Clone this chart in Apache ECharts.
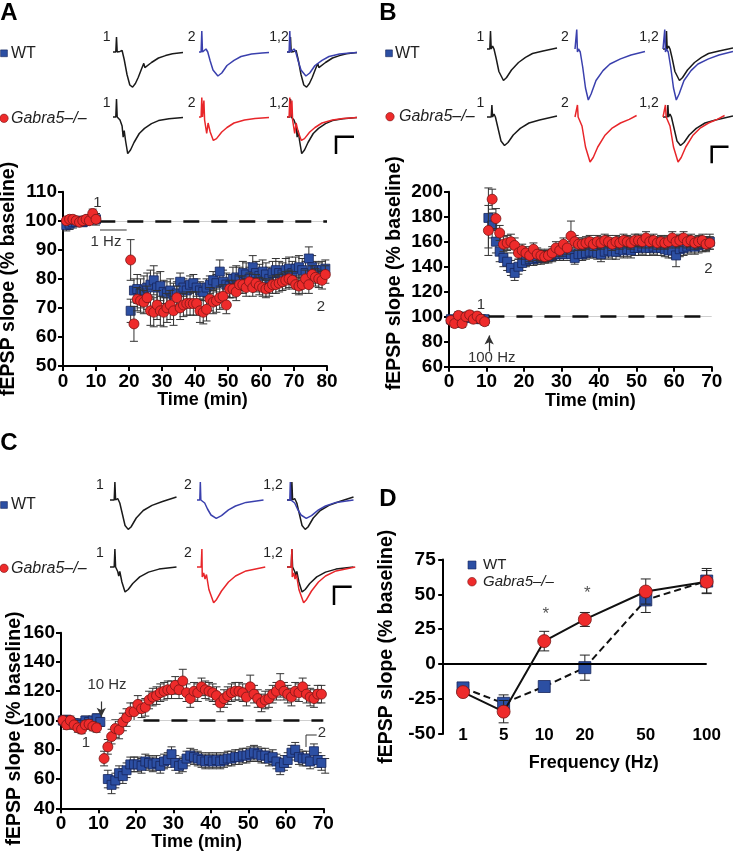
<!DOCTYPE html>
<html>
<head>
<meta charset="utf-8">
<script src="https://cdn.jsdelivr.net/npm/echarts/dist/echarts.min.js"></script>
<style>html,body{margin:0;padding:0;background:#fff}#chart{width:733px;height:853px}</style>
</head>
<body>
<div id="chart"></div>
<script>
const FONT = "'Liberation Sans', Arial, Helvetica, sans-serif";
function seq(start, n){ const a=[]; for(let i=0;i<n;i++) a.push(start+i); return a; }

// ---------------- Panel A (1 Hz) ----------------
const timeA_base = [1,2,3,4,5,6,7,8,9,10];
const timeA_post = seq(20.5, 60);
const wtA_base = [98.5,99,99.5,99.5,100,99.5,100,100.5,100.5,100.5];
const koA_base = [100,100.5,100.5,100,99.5,100,100.5,100,102.5,100.5];
const wtA_post = [69,76,76.5,75,76,77,78,79.5,77,77.5,
  75.5,75,76,74.5,75,79,77,76,78,78.5,
  77,76,75.5,77,78,79.5,78.5,82.5,79,78,
  77.5,80,80.5,80,82,81.5,80,84,82,81,
  82.5,81.5,80,82,83,82,81.5,83,83.5,82,
  83.5,84,83,82,87,84,83,82.5,83,83.5];
const koA_post = [86.5,64.5,73,72.5,72,73.5,69,68.5,71,69,
  68.5,70,71,69,73.5,70,71,71.5,71.5,71.5,
  71.5,69,68.5,69.5,73,72,72.5,73.5,74,71,
  76.5,76.5,75.5,78,78,77,79,77,78.5,77.5,
  77,76.5,77,78,78,78.5,79,79.5,80,79.5,
  78,77.5,78,80,78,81.5,80.5,80,79.5,81.5];
const wtA_errBase = [2,2,2,1.5,1.5,1.5,1.5,1.5,1.5,2];
const koA_errBase = [1,1,1,1,1,1,1,1,1.5,1];
const wtA_errPost = [4,4,5,5,5,5,5,5,5,5, 4,4,4,4,4,3,3,3,3,3, 3,3,3,3,3,3,3,4,4,4, 4,4,4,4,4,4,4,4,4,4, 4,4,4,4,4,4,4,4,4,4, 4,4,4,4,4,4,3,3,3,3];
const koA_errPost = [7,6,4,4,4,4,5,5,5,5, 5,5,5,5,4,4,4,4,4,4, 4,4,4,4,4,4,4,4,4,3, 3,3,3,3,3,3,3,3,3,3, 3,3,3,3,3,3,3,3,3,3, 3,3,3,3,3,3,3,3,3,3];

// ---------------- Panel B (100 Hz) ----------------
const timeB_base = seq(0.5, 10);
const timeB_post = seq(10.5, 60);
const wtB_base = [98,97,99,98,100,99,100,99,98,98];
const koB_base = [97,94.5,101,94.5,100,101.5,98,100.5,98,96];
const wtB_post = [179,173,160,152,147,144,139,135,140,143,
  145,146,146,147,147,148,148,149,150,150,
  150,152,150,147,150,150,151,152,152,151,
  150,152,153,152,152,154,153,154,153,155,
  155,156,155,155,156,155,155,154,153,153,
  149,154,155,156,157,156,157,158,158,160];
const koB_post = [169,194,178.5,167,158,159,160,157,151,153,
  151,149,154,150,149,148,149,151,155,153,
  158,155,164.5,160,158,158,159,160,158,160,
  159,161,160,158,160,159,161,160,159,161,
  161,160,163,160,161,159,160,159,160,163,
  160,161,163,160,161,159,160,161,158,159];
const wtB_errBase = [3,3,3,3,3,3,3,3,3,3];
const koB_errBase = [3,3,3,3,3,3,3,3,3,3];
const wtB_errPost = [24,10,9,8,7,7,6,6,6,6, 5,5,5,5,5,5,5,5,5,5, 5,5,5,5,5,5,5,5,5,5, 6,6,6,6,6,6,6,6,6,6, 6,6,6,6,6,6,6,6,6,6, 9,6,6,6,6,6,6,6,6,6];
const koB_errPost = [20,8,8,6,6,6,6,6,5,5, 5,5,5,5,5,5,5,5,5,5, 5,5,12,5,5,5,5,5,5,5, 5,5,5,5,5,5,5,5,5,5, 5,5,5,5,5,5,5,5,5,5, 5,5,5,5,5,5,5,5,5,5];

// ---------------- Panel C (10 Hz) ----------------
const timeC_KO_base = seq(0.5, 10);
const timeC_KO_post = seq(11.5, 59);
const timeC_WT_base = seq(0.5, 11);
const timeC_WT_post = seq(12.5, 59);
const koC_base = [100,97,100,97,95,94,97,97.5,96,95];
const wtC_base = [100,100.5,99,98,98,97,100,99,100,101.5,99];
const koC_post = [74,82,89,94.5,93.5,99,102,106,106,111,
  108,109,114,116,117,119,120,121,121,124,
  121,127,119,115,120,119,123,121,120,119,
  117,112,115,117,119,120,120,119,116,123,
  118,115,112,114,115,118,120,124,120,118,
  116,120,119,123,118,116,115,118,118];
const wtC_post = [60,56,59,64,62,66,70,70,70,69,
  72,71,70,71,69,72,73,77,71,69,
  70,74,76,75,74,73,72,73,72,73,
  72,73,74,74,75,75,76,76,77,78,
  77,76,76,74,75,72,68,71,73,78,
  80,75,74,74,72,79,73,71,69];
const koC_errBase = [3,3,3,3,3,3,3,3,3,3];
const wtC_errBase = [3,3,3,3,3,3,3,3,3,3,3];
const koC_errPost = [5,5,5,6,6,6,6,6,6,6, 6,6,6,6,6,6,6,6,6,6, 6,8,6,6,6,6,6,6,6,6, 6,6,6,6,6,6,6,6,6,8, 6,6,6,6,6,6,6,8,6,6, 6,6,6,6,6,6,6,6,6];
const wtC_errPost = [6,6,5,5,5,5,5,5,5,5, 5,5,5,5,5,5,5,5,5,5, 5,5,5,5,5,5,5,5,5,5, 5,5,5,5,5,5,5,5,5,5, 5,5,5,5,5,5,5,5,5,5, 5,5,5,5,5,5,5,5,5];

// ---------------- Panel D (frequency) ----------------
const freqLabels = ['1','5','10','20','50','100'];
const wtD = [-17,-28,-16,-2.5,46,59.5];
const wtD_err = [3,6,2.5,9,9,9];
const koD = [-20,-34,16.5,32,52,59];
const koD_err = [2,8,7,5,9,8];

// ---------------- example traces ([time, amplitude]) ----------------
const trA_WT1 = [[0,0],[0.8,0],[1,0.5],[1.2,0],[2,0.02],[2.6,0.05],[3.2,-0.25],[4,-0.75],[4.8,-1.1],[5.6,-1.17],[6.4,-1.05],[7.2,-0.85],[8.2,-0.55],[8.6,-0.5],[8.8,-0.38],[9.1,-0.52],[11,-0.35],[13,-0.2],[15,-0.12],[17,-0.06],[20,-0.02]];
const trA_WT2 = [[0,0],[0.6,0],[0.8,0.7],[1,0],[1.5,-0.05],[2,0.1],[2.5,0],[3.2,-0.3],[4,-0.6],[5.4,-0.8],[6.5,-0.7],[8,-0.45],[10,-0.28],[12,-0.15],[15,-0.07],[18,-0.03],[20,-0.02]];
const trA_KO1 = [[0,0],[0.8,0],[1,0.6],[1.2,0],[2,-0.1],[2.6,-0.3],[2.9,-0.67],[3.2,-0.45],[3.6,-0.8],[4.2,-1.22],[5,-1.1],[6,-0.85],[7.5,-0.55],[9,-0.38],[11,-0.22],[13,-0.12],[16,-0.06],[20,-0.02]];
const trA_KO2 = [[0,0],[0.6,0],[0.8,0.65],[1,0],[1.4,0.55],[1.6,-0.1],[2.2,-0.55],[2.6,-0.2],[3.2,-0.5],[4.1,-0.78],[5,-0.72],[6.5,-0.5],[8,-0.35],[10,-0.2],[13,-0.1],[16,-0.05],[20,-0.02]];
const trB_WT1 = [[0,0],[0.8,0],[1,0.6],[1.2,0],[1.6,0.1],[2,0],[2.6,-0.3],[3.4,-0.75],[4.7,-1.05],[5.6,-0.95],[7,-0.7],[9,-0.45],[11,-0.28],[13,-0.15],[16,-0.07],[20,0.03]];
const trB_WT2 = [[0,0],[0.3,0],[0.5,0.65],[0.7,-0.1],[1,0],[1.5,-0.1],[2.2,-0.6],[3,-1.3],[3.8,-1.7],[4.6,-1.5],[6,-1.05],[8,-0.72],[10,-0.5],[13,-0.33],[16,-0.2],[20,-0.08]];
const trB_KO1 = [[0,0],[1.2,0],[1.4,0.4],[1.6,0],[2,0.1],[2.4,0],[3,-0.3],[4,-0.8],[5,-0.95],[6,-0.85],[7.5,-0.6],[9.5,-0.38],[12,-0.2],[15,-0.1],[20,0.03]];
const trB_KO2 = [[0,0],[0.5,0],[0.7,0.4],[0.9,0],[1.4,0.05],[2,-0.3],[3,-1.0],[4.3,-1.5],[5.2,-1.35],[6.5,-1.0],[8.5,-0.62],[10.5,-0.38],[13,-0.2],[15.5,-0.08],[17.6,0.05]];
const trC_WT1 = [[0,0],[1.2,0],[1.4,0.6],[1.6,0],[2.2,0.05],[2.8,-0.1],[3.4,-0.4],[4.3,-0.85],[5.2,-0.98],[6,-0.9],[7.5,-0.6],[9.5,-0.35],[12,-0.18],[15,-0.05],[19,0.1]];
const trC_WT2 = [[0,0],[0.8,0],[0.95,0.6],[1.1,0],[1.6,0.05],[2.2,-0.1],[3,-0.3],[4,-0.5],[5.5,-0.61],[7,-0.52],[9,-0.33],[11,-0.2],[14,-0.08],[19,0]];
const trC_KO1 = [[0,0],[1.2,0],[1.4,0.6],[1.6,0],[2.2,-0.15],[2.5,-0.3],[2.8,-0.15],[3.4,-0.5],[4.3,-0.83],[5.2,-0.75],[6.5,-0.55],[8.5,-0.33],[11,-0.17],[14,-0.07],[19,0]];
const trC_KO2 = [[0,0],[1.2,0],[1.4,0.6],[1.5,-0.33],[1.9,-0.2],[2.3,-0.4],[2.7,-0.25],[3.4,-0.75],[4.75,-1.19],[5.6,-1.08],[7,-0.8],[9,-0.5],[11,-0.3],[14,-0.13],[19.5,0]];

// ---------------- styles ----------------
const RED = '#ee2b2b', RED_EDGE = '#7a1515', BLUE = '#2c4fa3', BLUE_EDGE = '#17255a';
const TR_BLACK = '#1a1a1a', TR_BLUE = '#3a40ad', TR_RED = '#e8262a';

const grids = [], xAxes = [], yAxes = [], series = [];
function addGrid(l, t, w, h){ grids.push({left:l, top:t, width:w, height:h, containLabel:false, outerBoundsMode:'none'}); return grids.length-1; }
function axisBase(){
  return {
    axisLine:{show:true, onZero:false, lineStyle:{color:'#000', width:2}},
    axisTick:{show:true, inside:false, length:5, lineStyle:{color:'#000', width:2}},
    axisLabel:{color:'#000', fontSize:19, fontWeight:'bold', fontFamily:FONT, margin:6},
    splitLine:{show:false}, nameMoveOverlap:false
  };
}
function zip3(t, v, e){ return t.map((x,i)=>[x, v[i], e[i]]); }
function errBars(gi, pts, cap, color, z){
  return {type:'custom', xAxisIndex:gi, yAxisIndex:gi, z:z, silent:true, animation:false, clip:false, data:pts,
    renderItem:function(p, api){
      const x = api.value(0), y = api.value(1), e = api.value(2);
      const a = api.coord([x, y+e]), b = api.coord([x, y-e]);
      const st = {stroke:color, lineWidth:1};
      return {type:'group', children:[
        {type:'line', shape:{x1:a[0], y1:a[1], x2:b[0], y2:b[1]}, style:st},
        {type:'line', shape:{x1:a[0]-cap, y1:a[1], x2:a[0]+cap, y2:a[1]}, style:st},
        {type:'line', shape:{x1:b[0]-cap, y1:b[1], x2:b[0]+cap, y2:b[1]}, style:st}
      ]};
    }};
}
function scat(gi, pts, kind, z, extra){
  const s = {type:'scatter', xAxisIndex:gi, yAxisIndex:gi, z:z, silent:true, animation:false,
    data:pts.map(p=>[p[0], p[1]]),
    symbol: kind==='ko' ? 'circle' : 'rect', symbolSize: kind==='ko' ? 10 : 9,
    itemStyle:{color: kind==='ko' ? RED : BLUE, borderColor: kind==='ko' ? RED_EDGE : BLUE_EDGE, borderWidth:0.8, opacity:1}};
  return Object.assign(s, extra||{});
}
function hLines(items){
  return {silent:true, symbol:['none','none'], label:{show:false}, animation:false, data:items};
}

function timePanel(box, xMax, yMin, yMax, yInt, namePadX, yGap, yPadTop, yPadBot){
  const g = addGrid(box[0], box[1], box[2], box[3]);
  xAxes.push(Object.assign(axisBase(), {type:'value', gridIndex:g, min:0, max:xMax, interval:10,
    name:'Time (min)', nameLocation:'middle', nameGap:25,
    nameTextStyle:{fontSize:18, fontWeight:'bold', color:'#000', fontFamily:FONT, padding:[0,0,0,namePadX]}}));
  yAxes.push(Object.assign(axisBase(), {type:'value', gridIndex:g, min:yMin, max:yMax, interval:yInt,
    name:'fEPSP slope (% baseline)', nameLocation:'middle', nameGap:yGap,
    nameTextStyle:{fontSize:19.5, fontWeight:'bold', color:'#000', fontFamily:FONT, padding:[0,yPadBot,0,yPadTop]}}));
  return g;
}

// Panel A
const gA = timePanel([63, 191.7, 264, 174.3], 80, 50, 110, 10, 15, 44, 0, 0);
const dashStyle = {color:'#111', width:2.5, type:[16,12]};
series.push(errBars(gA, zip3(timeA_base.concat(timeA_post), wtA_base.concat(wtA_post), wtA_errBase.concat(wtA_errPost)), 4, '#333', 2));
series.push(scat(gA, zip3(timeA_base.concat(timeA_post), wtA_base.concat(wtA_post), wtA_errBase.concat(wtA_errPost)), 'wt', 3, {
  markLine: hLines([
    [{coord:[10.5,100], lineStyle:{color:'#cfcfcf', width:1, type:'solid'}}, {coord:[80,100]}],
    [{coord:[11.2,96.8], lineStyle:{color:'#777', width:1.5, type:'solid'}}, {coord:[19.3,96.8]}]
  ])}));
series.push(errBars(gA, zip3(timeA_base.concat(timeA_post), koA_base.concat(koA_post), koA_errBase.concat(koA_errPost)), 4, '#333', 4));
series.push(scat(gA, zip3(timeA_base.concat(timeA_post), koA_base.concat(koA_post), koA_errBase.concat(koA_errPost)), 'ko', 5, {
  markLine: hLines([[{coord:[11,100], lineStyle:dashStyle}, {coord:[80,100]}]])}));

// Panel B
const gB = timePanel([449, 191.7, 262.7, 175], 70, 60, 200, 20, 20, 44, 12, 0);
series.push(errBars(gB, zip3(timeB_base.concat(timeB_post), wtB_base.concat(wtB_post), wtB_errBase.concat(wtB_errPost)), 4, '#333', 2));
series.push(scat(gB, zip3(timeB_base.concat(timeB_post), wtB_base.concat(wtB_post), wtB_errBase.concat(wtB_errPost)), 'wt', 3, {
  markLine: hLines([[{coord:[10.5,100], lineStyle:{color:'#cfcfcf', width:1, type:'solid'}}, {coord:[70,100]}]])}));
series.push(errBars(gB, zip3(timeB_base.concat(timeB_post), koB_base.concat(koB_post), koB_errBase.concat(koB_errPost)), 4, '#333', 4));
series.push(scat(gB, zip3(timeB_base.concat(timeB_post), koB_base.concat(koB_post), koB_errBase.concat(koB_errPost)), 'ko', 5, {
  markLine: {silent:true, label:{show:false}, animation:false, symbol:['none','none'], data:[
    [{coord:[10.5,100], lineStyle:dashStyle}, {coord:[70,100]}],
    [{coord:[10.7,72], symbol:'none', lineStyle:{color:'#333', width:1.2, type:'solid'}}, {coord:[10.7,85], symbol:'arrow', symbolSize:[7,9]}]
  ]}}));

// Panel C
const gC = timePanel([61, 632.7, 262.3, 175.6], 70, 40, 160, 20, 9, 36, 0, 16);
series.push(errBars(gC, zip3(timeC_WT_base.concat(timeC_WT_post), wtC_base.concat(wtC_post), wtC_errBase.concat(wtC_errPost)), 4, '#333', 2));
series.push(scat(gC, zip3(timeC_WT_base.concat(timeC_WT_post), wtC_base.concat(wtC_post), wtC_errBase.concat(wtC_errPost)), 'wt', 3, {
  markLine: hLines([[{coord:[12,100], lineStyle:{color:'#cfcfcf', width:1, type:'solid'}}, {coord:[70,100]}]])}));
series.push(errBars(gC, zip3(timeC_KO_base.concat(timeC_KO_post), koC_base.concat(koC_post), koC_errBase.concat(koC_errPost)), 4, '#333', 4));
series.push(scat(gC, zip3(timeC_KO_base.concat(timeC_KO_post), koC_base.concat(koC_post), koC_errBase.concat(koC_errPost)), 'ko', 5, {
  markLine: {silent:true, label:{show:false}, animation:false, symbol:['none','none'], data:[
    [{coord:[22,100], lineStyle:dashStyle}, {coord:[70,100]}],
    [{coord:[10.75,113], symbol:'none', lineStyle:{color:'#333', width:1.2, type:'solid'}}, {coord:[10.75,102.5], symbol:'arrow', symbolSize:[7,9]}]
  ]}}));

// Panel D
const freqSlot = [1,3,5,7,10,13];           // layout: uneven spacing of the frequency categories
const dCats = ['','','','','','','','','','','','','',''];
freqSlot.forEach((s,i)=>{ dCats[s] = freqLabels[i]; });
const gD = addGrid(442.7, 559.4, 264, 174.6);
xAxes.push({type:'category', gridIndex:gD, data:dCats, boundaryGap:false,
  axisLine:{show:false}, axisTick:{show:false}, splitLine:{show:false}, nameMoveOverlap:false,
  axisLabel:{interval:0, color:'#000', fontSize:17, fontWeight:'bold', fontFamily:FONT, margin:-7},
  name:'Frequency (Hz)', nameLocation:'middle', nameGap:20,
  nameTextStyle:{fontSize:18, fontWeight:'bold', color:'#000', fontFamily:FONT, padding:[0,0,0,38]}});
yAxes.push(Object.assign(axisBase(), {type:'value', gridIndex:gD, min:-50, max:75, interval:25,
  axisLabel:{color:'#000', fontSize:19, fontWeight:'bold', fontFamily:FONT, margin:7},
  axisTick:{show:true, inside:false, length:4.5, lineStyle:{color:'#000', width:2}},
  name:'fEPSP slope (% baseline)', nameLocation:'middle', nameGap:46,
  nameTextStyle:{fontSize:19.5, fontWeight:'bold', color:'#000', fontFamily:FONT}}));
series.push(errBars(gD, freqSlot.map((s,i)=>[s, wtD[i], wtD_err[i]]), 5, '#222', 2));
series.push({type:'line', xAxisIndex:gD, yAxisIndex:gD, z:3, silent:true, animation:false,
  data:freqSlot.map((s,i)=>[s, wtD[i]]), symbol:'rect', symbolSize:12,
  itemStyle:{color:BLUE, borderColor:BLUE_EDGE, borderWidth:0.8},
  lineStyle:{color:'#111', width:2, type:[7,4]},
  markLine:{silent:true, symbol:['none','none'], label:{show:false}, animation:false,
    lineStyle:{color:'#000', width:2, type:'solid'}, data:[{yAxis:0}]}});
series.push(errBars(gD, freqSlot.map((s,i)=>[s, koD[i], koD_err[i]]), 5, '#222', 4));
series.push({type:'line', xAxisIndex:gD, yAxisIndex:gD, z:5, silent:true, animation:false,
  data:freqSlot.map((s,i)=>[s, koD[i]]), symbol:'circle', symbolSize:13,
  itemStyle:{color:RED, borderColor:RED_EDGE, borderWidth:0.8},
  lineStyle:{color:'#111', width:2, type:'solid'}});

// Example traces: 3 columns x 2 rows per panel
function traceCell(left, top, items){
  const g = addGrid(left, top, 70, 78);
  xAxes.push({type:'value', gridIndex:g, min:0, max:20, show:false});
  yAxes.push({type:'value', gridIndex:g, min:-1.9, max:0.7, show:false});
  items.forEach(it=>{
    series.push({type:'line', xAxisIndex:g, yAxisIndex:g, data:it[0], symbol:'none', silent:true, animation:false,
      clip:false, lineStyle:{color:it[1], width:1.5}});
  });
}
function tracePanel(cols, tops, wt1, wt2, ko1, ko2){
  traceCell(cols[0], tops[0], [[wt1, TR_BLACK]]);
  traceCell(cols[1], tops[0], [[wt2, TR_BLUE]]);
  traceCell(cols[2], tops[0], [[wt1, TR_BLACK],[wt2, TR_BLUE]]);
  traceCell(cols[0], tops[1], [[ko1, TR_BLACK]]);
  traceCell(cols[1], tops[1], [[ko2, TR_RED]]);
  traceCell(cols[2], tops[1], [[ko1, TR_BLACK],[ko2, TR_RED]]);
}
tracePanel([113,199,287], [31,96], trA_WT1, trA_WT2, trA_KO1, trA_KO2);
tracePanel([487,575,663], [28,96], trB_WT1, trB_WT2, trB_KO1, trB_KO2);
tracePanel([110,197,287], [479,546], trC_WT1, trC_WT2, trC_KO1, trC_KO2);

// ---------------- annotations ----------------
const G = [];
function txt(x, y, s, font, fill, align){
  G.push({type:'text', x:x, y:y, silent:true, style:{text:s, font:font, fill:fill||'#222', align:align||'center', verticalAlign:'middle'}});
}
function poly(pts, w, c){ G.push({type:'polyline', silent:true, shape:{points:pts}, style:{stroke:c||'#000', lineWidth:w, fill:null}}); }
const F_LET = 'bold 24px ' + FONT, F_LEG = '16px ' + FONT, F_LEGI = 'italic 16px ' + FONT, F_SM = '14px ' + FONT, F_AN = '15px ' + FONT;
txt(9, 13, 'A', F_LET, '#000'); txt(388, 13, 'B', F_LET, '#000'); txt(9, 443, 'C', F_LET, '#000'); txt(388, 499, 'D', F_LET, '#000');
function legend(sqx, sqy, wx, cx, cy, gx){
  G.push({type:'rect', silent:true, shape:{x:sqx-3.4, y:sqy-3.4, width:6.8, height:6.8}, style:{fill:BLUE, stroke:BLUE_EDGE, lineWidth:0.6}});
  txt(wx, sqy, 'WT', F_LEG, '#222', 'left');
  G.push({type:'circle', silent:true, shape:{cx:cx, cy:cy, r:4.2}, style:{fill:RED, stroke:RED_EDGE, lineWidth:0.6}});
  txt(gx, cy, 'Gabra5\u2013/\u2013', F_LEGI, '#222', 'left');
}
legend(4, 53.3, 11, 4, 118.3, 11);
legend(389, 53.3, 395, 390, 116.7, 399);
legend(4, 505, 11, 4, 568.3, 11);
// legend D
G.push({type:'rect', silent:true, shape:{x:468, y:561, width:8, height:8}, style:{fill:BLUE, stroke:BLUE_EDGE, lineWidth:0.6}});
txt(483, 565, 'WT', '15px ' + FONT, '#222', 'left');
G.push({type:'circle', silent:true, shape:{cx:472, cy:581.7, r:4.3}, style:{fill:RED, stroke:RED_EDGE, lineWidth:0.6}});
txt(483, 581.7, 'Gabra5\u2013/\u2013', 'italic 15px ' + FONT, '#222', 'left');
// trace labels
[[106.7,191.7,279,36.7,103.3],[480.3,565,649,36.7,103.3],[100,188,273,485,553.3]].forEach(r=>{
  txt(r[0], r[3], '1', F_SM); txt(r[1], r[3], '2', F_SM); txt(r[2], r[3], '1,2', F_SM);
  txt(r[0], r[4], '1', F_SM); txt(r[1], r[4], '2', F_SM); txt(r[2], r[4], '1,2', F_SM);
});
// scale bars
poly([[354,136.7],[336,136.7],[336,154]], 2.5);
poly([[728.5,146.7],[711.7,146.7],[711.7,163.3]], 2.5);
poly([[351.7,586.7],[334,586.7],[334,605]], 2.5);
// plot annotations
txt(97.3, 203.3, '1', F_AN, '#333'); txt(106, 241.7, '1 Hz', F_AN, '#333'); txt(321, 306.7, '2', F_AN, '#333');
txt(481, 305, '1', F_AN, '#333'); txt(708.3, 269.3, '2', F_AN, '#333'); txt(491.7, 358, '100 Hz', F_AN, '#333');
txt(107, 685, '10 Hz', F_AN, '#333'); txt(86, 743, '1', F_AN, '#333'); txt(322, 733.3, '2', F_AN, '#333');
poly([[306,747],[306,735],[316.7,735]], 1, '#333');
txt(545.7, 614, '*', '17px ' + FONT, '#555'); txt(587.3, 593, '*', '17px ' + FONT, '#555');

const chart = echarts.init(document.getElementById('chart'), null, {renderer:'canvas'});
chart.setOption({
  animation:false, backgroundColor:'#fff',
  textStyle:{fontFamily:FONT},
  grid:grids, xAxis:xAxes, yAxis:yAxes, series:series, graphic:G
});
</script>
</body>
</html>
